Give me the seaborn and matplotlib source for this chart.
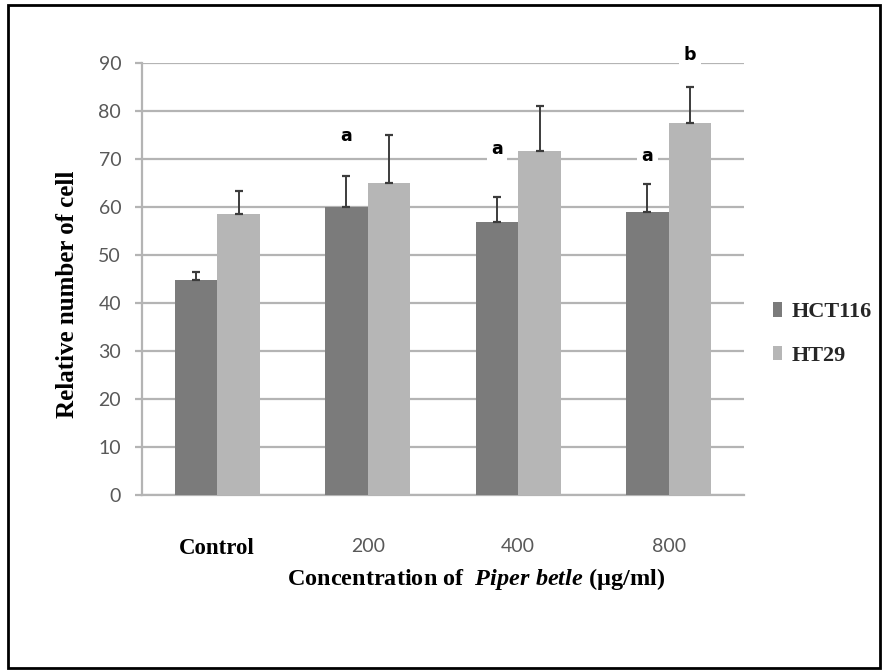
import matplotlib
matplotlib.use("Agg")
import matplotlib.pyplot as plt
import numpy as np
import pandas as pd
import seaborn as sns
from matplotlib.patches import Rectangle

# data
concentrations = ["Control", "200", "400", "800"]
cell_lines = ["HCT116", "HT29"]
hct116_mean = [44.8, 59.9, 56.8, 58.9]
hct116_sd = [1.7, 6.6, 5.2, 5.9]
ht29_mean = [58.6, 64.9, 71.6, 77.6]
ht29_sd = [4.8, 10.2, 9.5, 7.4]

# significance letters: (cell line, concentration, letter, y position)
sig_lines = ["HCT116", "HCT116", "HCT116", "HT29"]
sig_conc = ["200", "400", "800", "800"]
sig_letters = ["a", "a", "a", "b"]
sig_y = [74.8, 72.0, 70.7, 91.6]

colors = {"HCT116": "#7b7b7b", "HT29": "#b6b6b6"}
grid_color = "#b4b4b4"
tick_color = "#595959"

df = pd.DataFrame({
    "Concentration": concentrations * 2,
    "Line": ["HCT116"] * 4 + ["HT29"] * 4,
    "Value": hct116_mean + ht29_mean,
})

sns.set_theme(style="white")
plt.rcParams["mathtext.fontset"] = "custom"
plt.rcParams["mathtext.it"] = "Liberation Serif:bold:italic"
plt.rcParams["mathtext.rm"] = "Liberation Serif:bold"

fig = plt.figure(figsize=(8.89, 6.72), dpi=100)
ax = fig.add_axes([142 / 889, 1 - 495 / 672, 602 / 889, 432 / 672])

sns.barplot(data=df, x="Concentration", y="Value", hue="Line", order=concentrations,
            hue_order=cell_lines, palette=colors, width=0.565, gap=0,
            errorbar=None, linewidth=0, saturation=1, ax=ax, zorder=3)

# one-sided (upper) error bars at the bar centres
bar_x = {}
for line, cont, sd in zip(cell_lines, ax.containers, [hct116_sd, ht29_sd]):
    xs = np.array([p.get_x() + p.get_width() / 2 for p in cont.patches])
    ys = np.array([p.get_height() for p in cont.patches])
    bar_x[line] = dict(zip(concentrations, xs))
    ax.errorbar(xs, ys, yerr=[np.zeros_like(ys), np.array(sd)], fmt="none",
                ecolor="#3c3c3c", elinewidth=1.4, capsize=3.2, capthick=1.6, zorder=4)

for line, conc, letter, y in zip(sig_lines, sig_conc, sig_letters, sig_y):
    ax.text(bar_x[line][conc], y, letter, ha="center", va="center", fontsize=12.5,
            fontweight="bold", family="DejaVu Sans", color="black", clip_on=False,
            zorder=5, bbox=dict(boxstyle="square,pad=0.25", fc="white", ec="none"))

ax.set_ylim(0, 90)
ax.set_yticks(range(0, 91, 10))
ax.set_xlim(-0.5, 3.5)
ax.yaxis.grid(True, color=grid_color, linewidth=1.6)
ax.set_axisbelow(True)
for side in ["top", "right"]:
    ax.spines[side].set_visible(False)
for side in ["left", "bottom"]:
    ax.spines[side].set_color(grid_color)
    ax.spines[side].set_linewidth(1.6)

ax.tick_params(axis="y", left=True, length=5, width=1.6, color=grid_color, pad=10,
               labelsize=14, labelcolor=tick_color)
ax.tick_params(axis="x", bottom=False, pad=25, labelsize=14, labelcolor=tick_color)
for lab in ax.get_yticklabels():
    lab.set_family("Lato")
for lab in ax.get_xticklabels():
    if lab.get_text() == "Control":
        lab.set_family("Liberation Serif")
        lab.set_fontweight("bold")
        lab.set_color("black")
        lab.set_fontsize(16.5)
    else:
        lab.set_family("Lato")

ax.set_ylabel("Relative number of cell", family="Liberation Serif", fontweight="bold",
              fontsize=18, color="black")
ax.yaxis.set_label_coords(-0.105, 0.465)
ax.set_xlabel(r"Concentration of  $\mathit{Piper\ betle}$ (µg/ml)",
              family="Liberation Serif", fontweight="bold", fontsize=17.5, color="black")
ax.xaxis.set_label_coords(0.555, -0.164)

handles, labels = ax.get_legend_handles_labels()
ax.legend(handles, labels, loc="center left", bbox_to_anchor=(0.847, 0.503),
          bbox_transform=fig.transFigure, frameon=False, handlelength=0.4,
          handleheight=0.65, labelspacing=1.05, handletextpad=0.45,
          prop={"family": "Liberation Serif", "weight": "bold", "size": 16})

fig.patches.append(Rectangle((8 / 889, 4 / 672), 872 / 889, 663 / 672,
                             transform=fig.transFigure, fill=False,
                             edgecolor="black", linewidth=2.0))

fig.savefig("out.png", dpi=100)
